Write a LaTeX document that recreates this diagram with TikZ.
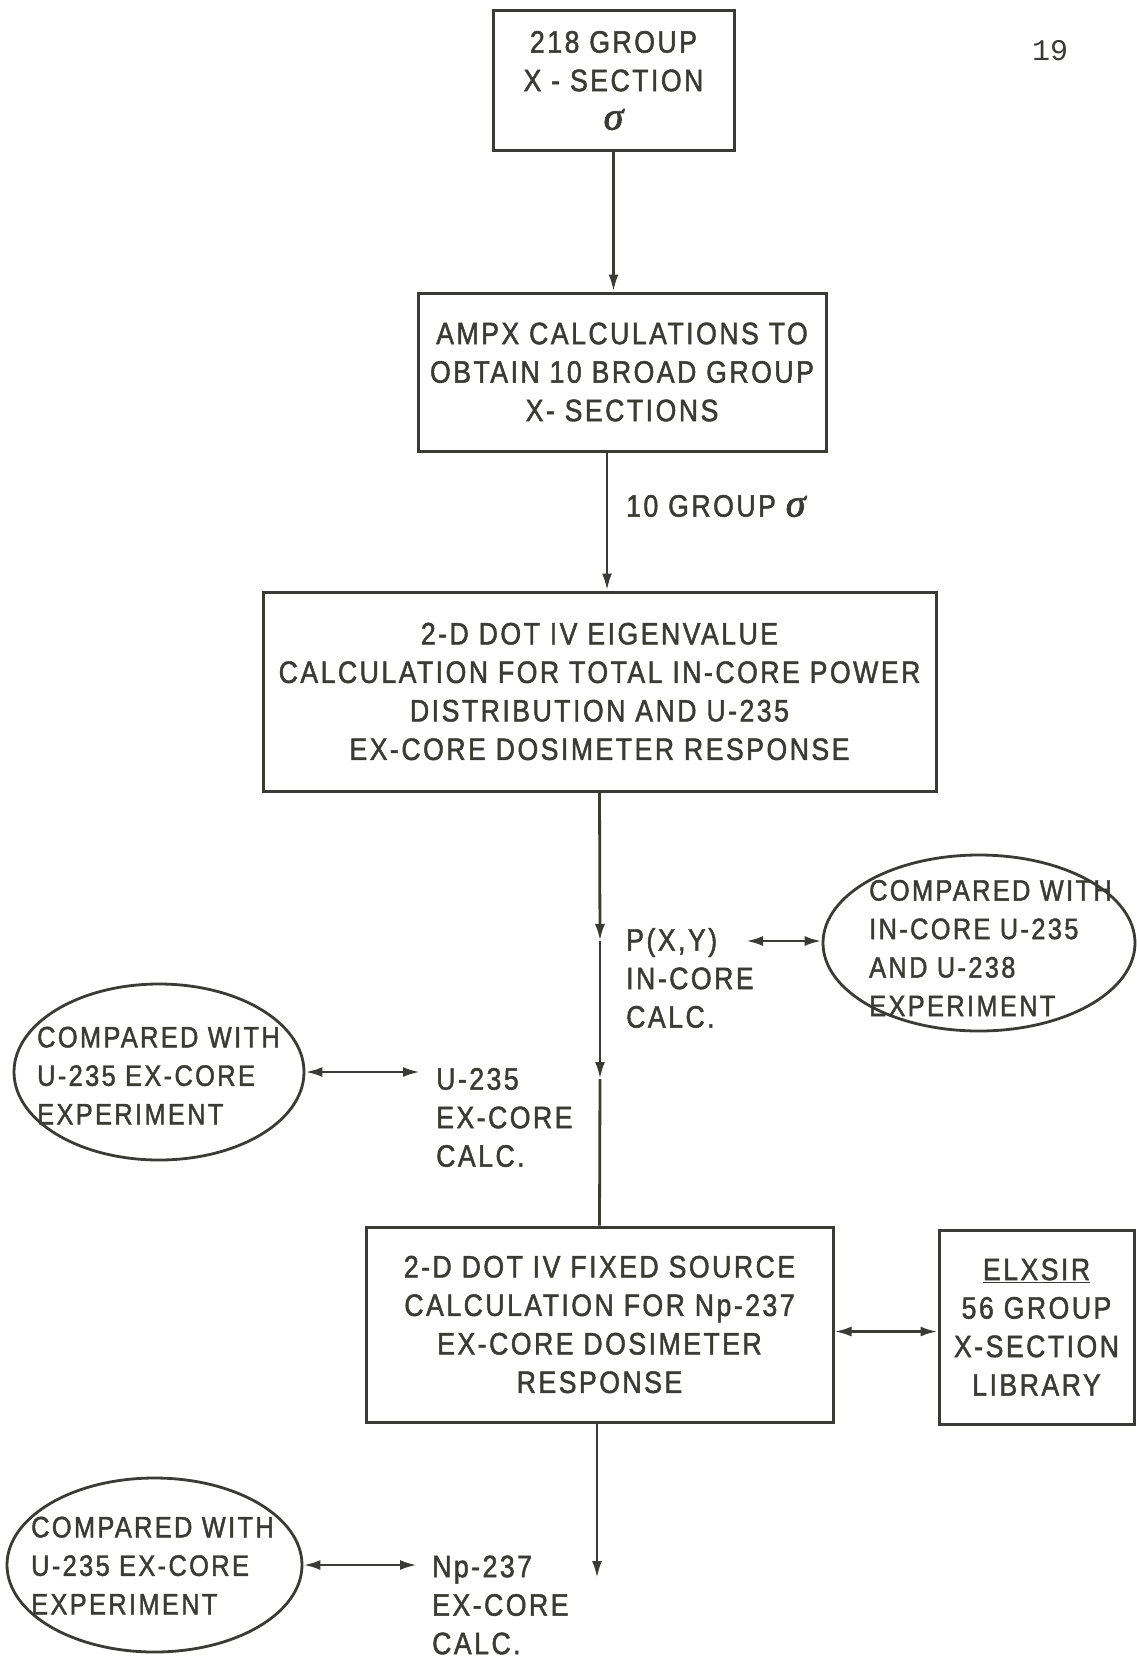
\documentclass[tikz,border=0pt]{standalone}
\usepackage{fontspec}
\setmainfont{Liberation Sans}[FakeStretch=0.86,LetterSpace=8,FakeBold=1.5]
\newfontfamily\typefont{Liberation Mono}
\newfontfamily\sigfont{Liberation Serif}[FakeBold=2]
\usetikzlibrary{arrows.meta,shapes.geometric}
\definecolor{ink}{RGB}{58,58,54}
\newcommand{\sig}{{\sigfont\itshape\fontsize{40}{38.5}\selectfont σ}}
\begin{document}
\begin{tikzpicture}[x=1pt,y=-1pt,
  every node/.style={text=ink, font=\fontsize{31}{38.5}\selectfont},
  box/.style={draw=ink, line width=3pt, rectangle, inner sep=0pt, align=center},
  oval/.style={draw=ink, line width=2.8pt, ellipse, inner sep=0pt},
  lbl/.style={inner sep=0pt, align=left, anchor=west},
  small/.style={font=\fontsize{29.5}{38.5}\selectfont},
  conn/.style={draw=ink, line width=2.8pt},
  arr/.style={-{Latex[length=17pt,width=10pt]}},
  darr/.style={{Latex[length=17pt,width=10pt]}-{Latex[length=17pt,width=10pt]}}
]
\fill[white] (0,0) rectangle (1136,1659);
\useasboundingbox (0,0) rectangle (1136,1659);

\node[box, minimum width=241pt, minimum height=139pt] (b1) at (613.5,80.5) {218 GROUP\\X - SECTION\\\sig};
\node[box, minimum width=408pt, minimum height=158pt] (b2) at (622,372) {AMPX CALCULATIONS TO\\OBTAIN 10 BROAD GROUP\\X- SECTIONS};
\node[box, minimum width=673pt, minimum height=199pt] (b3) at (599.5,691.5) {2-D DOT IV EIGENVALUE\\CALCULATION FOR TOTAL IN-CORE POWER\\DISTRIBUTION AND U-235\\EX-CORE DOSIMETER RESPONSE};
\node[box, minimum width=467pt, minimum height=195pt] (b4) at (599.5,1324.5) {2-D DOT IV FIXED SOURCE\\CALCULATION FOR Np-237\\EX-CORE DOSIMETER\\RESPONSE};
\node[box, minimum width=195pt, minimum height=194pt] (b5) at (1036.5,1327) {\underline{ELXSIR}\\56 GROUP\\X-SECTION\\LIBRARY};

\node[oval, minimum width=312pt, minimum height=176pt] (e1) at (979,943) {};
\node[lbl, small] (e1t) at (869,948) {COMPARED WITH\\IN-CORE U-235\\AND U-238\\EXPERIMENT};
\node[oval, minimum width=290pt, minimum height=176pt] (e2) at (159,1072) {};
\node[lbl, small] (e2t) at (37,1075.5) {COMPARED WITH\\U-235 EX-CORE\\EXPERIMENT};
\node[oval, minimum width=295pt, minimum height=174pt] (e3) at (154.5,1565) {};
\node[lbl, small] (e3t) at (31,1565.5) {COMPARED WITH\\U-235 EX-CORE\\EXPERIMENT};

\node[lbl] (g10) at (626,506) {10 GROUP \sig};
\node[lbl] (pxy) at (626,978) {P(X,Y)\\IN-CORE\\CALC.};
\node[lbl] (u235) at (436,1117.5) {U-235\\EX-CORE\\CALC.};
\node[lbl] (np) at (432,1605) {Np-237\\EX-CORE\\CALC.};
\node[font=\typefont\fontsize{30}{30}\selectfont, inner sep=0pt] (pg) at (1050,51) {19};

\coordinate (m1) at (600,941);
\coordinate (m2) at (600,1079);
\coordinate (pend) at (746,941);
\coordinate (uend) at (420,1079);
\coordinate (nend) at (417,1563);
\coordinate (bend) at (597,1578);

\draw[conn,arr] (b1.south) -- (b1.south |- b2.north);
\draw[conn,arr] ([xshift=-15pt]b2.south) -- ([xshift=-15pt]b2.south |- b3.north);
\draw[conn,arr] (b3.south) -- (m1);
\draw[conn,arr] (m1) -- (m2);
\draw[conn] (m2) -- (b4.north);
\draw[conn,darr] (pend) -- (e1.west |- pend);
\draw[conn,darr] (e2.east) -- (e2.east -| uend);
\draw[conn,darr] ([yshift=-7pt]b4.east) -- ([yshift=-7pt]b4.east -| b5.west);
\draw[conn,darr] (e3.east) -- (e3.east -| nend);
\draw[conn,arr] (b4.south -| bend) -- (bend);
\end{tikzpicture}
\end{document}
